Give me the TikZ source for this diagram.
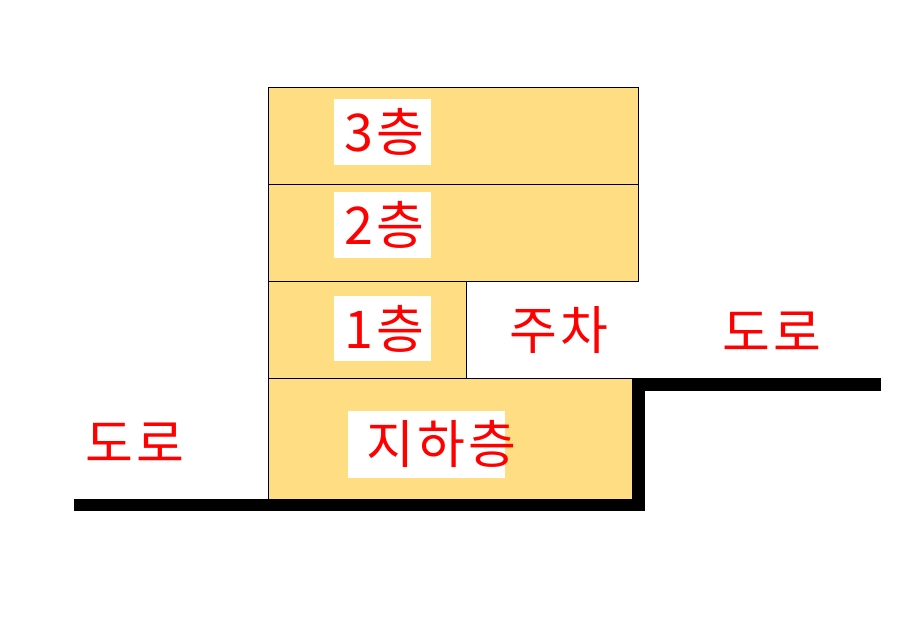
\documentclass[tikz,border=0pt]{standalone}
\usepackage{fontspec}
\newfontfamily\kr[LetterSpace=6]{Noto Sans CJK KR}
\definecolor{floorfill}{HTML}{FFDE83}
\definecolor{labelred}{HTML}{FF0000}
\tikzset{
  floorbox/.style={draw=black, line width=1pt, fill=floorfill, rectangle, inner sep=0pt, anchor=north west},
  whitebox/.style={fill=white, rectangle, inner sep=0pt, anchor=north west},
  lbl/.style={text=labelred, font=\kr\fontsize{52}{52}\selectfont, inner sep=0pt},
  road/.style={line width=12.5pt, line join=miter, line cap=butt, draw=black}
}
\begin{document}
\begin{tikzpicture}[x=1pt, y=-1pt]
\useasboundingbox (0,0) rectangle (914,622);
% floors
\node[floorbox, minimum width=370pt, minimum height=97pt] (f3) at (268,87) {};
\node[floorbox, minimum width=370pt, minimum height=97pt] (f2) at (268,184) {};
\node[floorbox, minimum width=198pt, minimum height=97pt] (f1) at (268,281) {};
\node[floorbox, minimum width=364pt, minimum height=121pt] (b1) at (268,378) {};
% road line
\coordinate (r1) at (74,505);
\coordinate (r2) at (638.5,505);
\coordinate (r3) at (638.5,384.5);
\coordinate (r4) at (881,384.5);
\draw[road] (r1) -- (r2) -- (r3) -- (r4);
% label boxes
\node[whitebox, minimum width=97pt, minimum height=66pt] (w3) at (334,99) {};
\node[whitebox, minimum width=97pt, minimum height=66pt] (w2) at (334,192) {};
\node[whitebox, minimum width=97pt, minimum height=65pt] (w1) at (334,296) {};
\node[whitebox, minimum width=157pt, minimum height=67pt] (wb) at (348,411) {};
% labels
\node[lbl] (t3) at (384,132) {3층};
\node[lbl] (t2) at (384,225) {2층};
\node[lbl] (t1) at (384,329) {1층};
\node[lbl] (tb) at (441,444) {지하층};
\node[lbl] (tp) at (559,330) {주차};
\node[lbl] (tr) at (772,332) {도로};
\node[lbl] (tl) at (135,443) {도로};
\end{tikzpicture}
\end{document}
